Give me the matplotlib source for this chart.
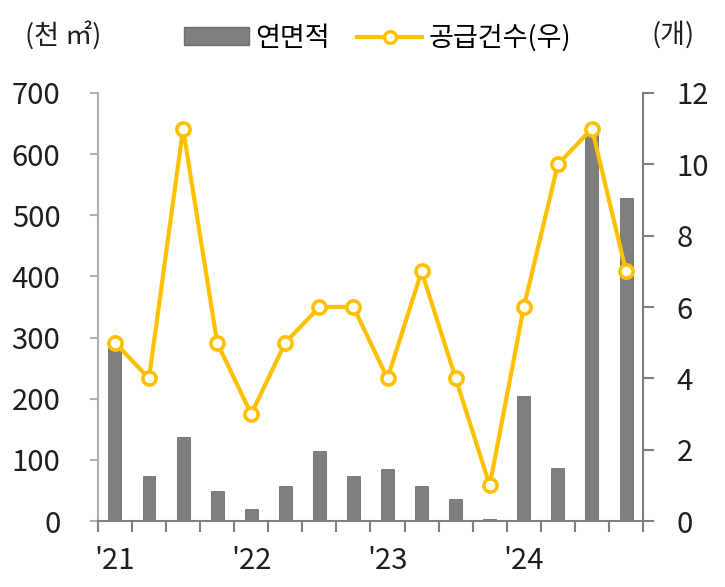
import matplotlib
matplotlib.use("Agg")
import matplotlib.pyplot as plt
import numpy as np
from matplotlib.patches import Patch
from matplotlib.lines import Line2D

plt.rcParams["font.family"] = ["Noto Sans CJK KR", "DejaVu Sans"]

# quarterly data, 2021Q1 - 2024Q4
quarters = [f"{y}Q{q}" for y in range(21, 25) for q in range(1, 5)]
floor_area = [291, 74, 137, 49, 19, 57, 114, 74, 85, 57, 36, 4, 204, 87, 640, 529]  # 천 ㎡
supply_count = [5, 4, 11, 5, 3, 5, 6, 6, 4, 7, 4, 1, 6, 10, 11, 7]  # 개
year_labels = ["'21", "'22", "'23", "'24"]

bar_color = "#7f7f7f"
line_color = "#FFC000"
left_gray = "#b0b0b0"
right_gray = "#808080"
text_color = "#1f1f1f"

fig = plt.figure(figsize=(7.25, 5.87), dpi=100)
ax = fig.add_axes([0.135, 0.1124, 0.752, 0.7292])
ax2 = ax.twinx()

x = np.arange(len(quarters))
ax.bar(x, floor_area, width=0.38, color=bar_color, edgecolor="#6e6e6e", linewidth=0.6, zorder=2)
ax2.plot(x, supply_count, color=line_color, lw=3, marker="o", markersize=9.5,
         markerfacecolor="white", markeredgecolor=line_color, markeredgewidth=2.6, zorder=3)

ax.set_xlim(-0.5, len(quarters) - 0.5)
ax.set_ylim(0, 700)
ax2.set_ylim(0, 12)
ax.set_yticks(range(0, 701, 100))
ax2.set_yticks(range(0, 13, 2))

# year labels on major ticks, tick marks on category boundaries
ax.set_xticks(x[::4])
ax.set_xticklabels(year_labels)
ax.set_xticks(np.arange(-0.5, len(quarters), 1), minor=True)
ax.tick_params(axis="x", which="major", length=0, pad=18, labelsize=21, colors=text_color)
ax.tick_params(axis="x", which="minor", length=8, width=1.5, color=right_gray)

ax.tick_params(axis="y", length=6, width=1.5, color=left_gray, labelsize=21,
               labelcolor=text_color, pad=21)
ax2.tick_params(axis="y", length=8, width=1.5, color=right_gray, labelsize=21,
                labelcolor=text_color, pad=16)

for a in (ax, ax2):
    a.spines["top"].set_visible(False)
ax.spines["right"].set_visible(False)
ax.spines["left"].set_color(left_gray)
ax.spines["left"].set_linewidth(1.5)
ax.spines["bottom"].set_color(right_gray)
ax.spines["bottom"].set_linewidth(1.5)
ax2.spines["left"].set_visible(False)
ax2.spines["bottom"].set_visible(False)
ax2.spines["right"].set_color(right_gray)
ax2.spines["right"].set_linewidth(1.5)

# units and legend
fig.text(0.034, 0.940, "(천 ㎡)", fontsize=19.5, color=text_color, va="center")
fig.text(0.898, 0.940, "(개)", fontsize=19.5, color=text_color, va="center")

handles = [Patch(facecolor=bar_color, edgecolor="#6e6e6e"),
           Line2D([], [], color=line_color, lw=3, marker="o", markersize=8.5,
                  markerfacecolor="white", markeredgecolor=line_color, markeredgewidth=2.4)]
fig.legend(handles, ["연면적", "공급건수(우)"], loc="center", bbox_to_anchor=(0.521, 0.935),
           ncol=2, frameon=False, fontsize=19.5, handlelength=2.4, handleheight=0.65,
           handletextpad=0.25, columnspacing=1.0, borderpad=0, borderaxespad=0)

fig.savefig("out.png", dpi=100)
